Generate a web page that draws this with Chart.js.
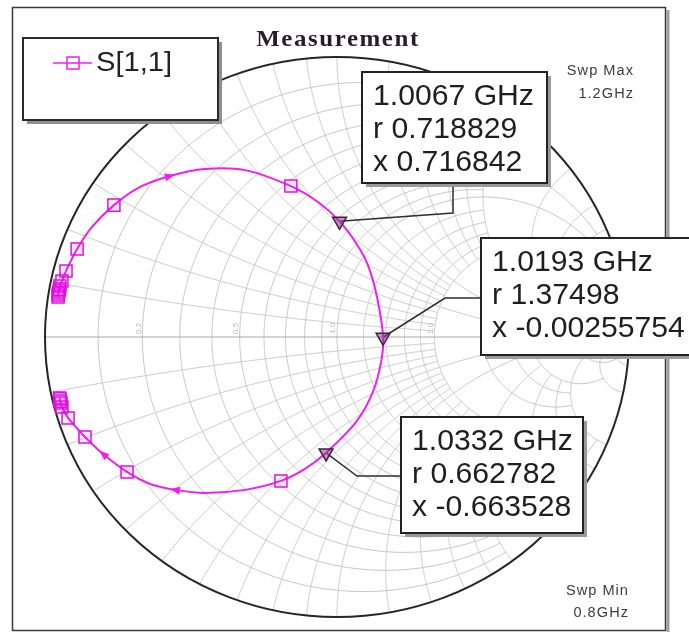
<!DOCTYPE html>
<html>
<head>
<meta charset="utf-8">
<script src="https://cdn.jsdelivr.net/npm/chart.js@4.4.1/dist/chart.umd.min.js"></script>
<style>
  html, body { margin: 0; padding: 0; background: #fff; overflow: hidden; }
  canvas { display: block; }
</style>
</head>
<body>
<canvas id="smith" width="689" height="632" style="width:689px;height:632px"></canvas>
<script>
// S[1,1] sweep: frequency (GHz) and reflection coefficient (real / imaginary)
const freqGHz = [0.80, 0.82, 0.84, 0.86, 0.88, 0.90, 0.92, 0.94, 0.96, 0.97, 0.98, 0.985, 0.99, 0.994, 0.997,
                 1.00, 1.0035, 1.0067, 1.010, 1.013, 1.016, 1.0193, 1.023, 1.026, 1.029, 1.0332, 1.036,
                 1.04, 1.044, 1.048, 1.052, 1.056, 1.06, 1.07, 1.08, 1.09, 1.10, 1.12, 1.14, 1.16, 1.18, 1.20];
const s11Re = [-0.955, -0.955, -0.954, -0.952, -0.950, -0.949, -0.942, -0.928, -0.890, -0.839, -0.764, -0.682, -0.572, -0.452, -0.315,
               -0.158, -0.065, 0.009, 0.065, 0.106, 0.137, 0.158, 0.151, 0.123, 0.065, -0.038, -0.110,
               -0.192, -0.315, -0.452, -0.555, -0.640, -0.719, -0.801, -0.863, -0.897, -0.921, -0.942, -0.945, -0.949, -0.949, -0.950];
const s11Im = [0.143, 0.150, 0.157, 0.164, 0.171, 0.182, 0.200, 0.236, 0.314, 0.393, 0.471, 0.532, 0.575, 0.600, 0.596,
               0.539, 0.482, 0.413, 0.336, 0.257, 0.143, -0.001, -0.089, -0.196, -0.304, -0.414, -0.471,
               -0.514, -0.546, -0.557, -0.546, -0.525, -0.482, -0.418, -0.357, -0.318, -0.289, -0.250, -0.236, -0.229, -0.221, -0.218];

// markers: frequency and normalized impedance r + jx
const markerFreqGHz = [1.0067, 1.0193, 1.0332];
const markerR = [0.718829, 1.37498, 0.662782];
const markerX = [0.716842, -0.00255754, -0.663528];

// sweep direction arrows placed at these frequencies
const arrowFreqGHz = [0.99, 1.052, 1.07];

// Smith grid: circle / arc values and how far each one is drawn
const gridValues = [0.1, 0.2, 0.3, 0.4, 0.5, 0.6, 0.7, 0.8, 0.9, 1.0, 1.2, 1.4, 1.6, 1.8, 2.0, 3, 4, 5, 10, 20];
const gridLimits = [2, 2, 2, 2, 5, 2, 2, 2, 2, 5, 2, 2, 2, 2, 5, 5, 5, 10, 20, Infinity];
const axisLabelValues = [0.2, 0.5, 1.0, 2.0, 5.0];

const chartTitle = 'Measurement';
const seriesName = 'S[1,1]';
const sweepMaxText = ['Swp Max', '1.2GHz'];
const sweepMinText = ['Swp Min', '0.8GHz'];

const TRACE = '#f01ef0';
const SANS = '"Liberation Sans", Arial, sans-serif';

function zToGamma(r, x) {
  const d = (r + 1) * (r + 1) + x * x;
  return [(r * r + x * x - 1) / d, (2 * x) / d];
}
function isSquarePoint(f) {
  return Math.abs(f * 50 - Math.round(f * 50)) < 1e-6;
}

// marker label boxes and their leader-line bends
const markerBoxes = [
  { x: 362, y: 72,  w: 185, h: 111, bends: [[453, 213], [453, 183]] },
  { x: 481, y: 238, w: 240, h: 117, bends: [[445, 298], [481, 298]] },
  { x: 401, y: 417, w: 182, h: 116, bends: [[357, 476], [401, 476]] }
];

function stretchedText(ctx, text, x, y, font, color, align, spacing) {
  ctx.save();
  ctx.font = font;
  ctx.fillStyle = color;
  ctx.textAlign = align || 'left';
  ctx.textBaseline = 'alphabetic';
  if (spacing) ctx.letterSpacing = spacing + 'px';
  ctx.translate(x, y);
  ctx.scale(1.04, 1);
  ctx.fillText(text, 0, 0);
  ctx.restore();
}

const smithPlugin = {
  id: 'smithPlugin',
  beforeDraw(chart) {
    const ctx = chart.ctx;
    ctx.save();
    ctx.fillStyle = '#fff';
    ctx.fillRect(0, 0, chart.width, chart.height);
    // outer frame with a soft right-hand shadow
    ctx.strokeStyle = '#a0a0a0';
    ctx.lineWidth = 3;
    ctx.beginPath(); ctx.moveTo(668, 10); ctx.lineTo(668, 632); ctx.stroke();
    ctx.strokeStyle = '#3a3a3a';
    ctx.lineWidth = 1.5;
    ctx.strokeRect(12.5, 7.5, 653, 623);
    ctx.restore();
  },
  beforeDatasetsDraw(chart) {
    const ctx = chart.ctx;
    const sx = chart.scales.x, sy = chart.scales.y;
    const P = g => [sx.getPixelForValue(g[0]), sy.getPixelForValue(g[1])];
    ctx.save();
    ctx.strokeStyle = '#c6c6c6';
    ctx.lineWidth = 1;
    const N = 500;
    gridValues.forEach((v, i) => {
      const a = Math.atan(gridLimits[i]);
      // resistance circle r = v
      ctx.beginPath();
      for (let k = 0; k <= N; k++) {
        const phi = -a + 2 * a * k / N;
        const p = P(zToGamma(v, Math.tan(phi)));
        k ? ctx.lineTo(p[0], p[1]) : ctx.moveTo(p[0], p[1]);
      }
      ctx.stroke();
      // reactance arcs x = +v and x = -v
      [1, -1].forEach(sgn => {
        ctx.beginPath();
        for (let k = 0; k <= N; k++) {
          const psi = a * k / N;
          const p = P(zToGamma(Math.tan(psi), sgn * v));
          k ? ctx.lineTo(p[0], p[1]) : ctx.moveTo(p[0], p[1]);
        }
        ctx.stroke();
      });
    });
    // real axis
    ctx.strokeStyle = '#a8a8a8';
    const l = P([-1, 0]), rgt = P([1, 0]);
    ctx.beginPath(); ctx.moveTo(l[0], l[1]); ctx.lineTo(rgt[0], rgt[1]); ctx.stroke();

    // small resistance labels along the axis
    ctx.fillStyle = '#b8b8b8';
    ctx.font = '8px ' + SANS;
    ctx.textAlign = 'left';
    ctx.textBaseline = 'middle';
    axisLabelValues.forEach(v => {
      const p = P(zToGamma(v, 0));
      ctx.save();
      ctx.translate(p[0] - 4, p[1] - 3);
      ctx.rotate(-Math.PI / 2);
      ctx.fillText(v.toFixed(1), 0, 0);
      ctx.restore();
    });

    // outer |Γ| = 1 boundary
    const c = P([0, 0]);
    const rx = sx.getPixelForValue(1) - c[0];
    const ry = c[1] - sy.getPixelForValue(1);
    ctx.strokeStyle = '#262626';
    ctx.lineWidth = 2;
    ctx.beginPath();
    ctx.ellipse(c[0], c[1], rx, ry, 0, 0, Math.PI * 2);
    ctx.stroke();

    // leader lines from markers to their boxes
    ctx.strokeStyle = '#2e2e2e';
    ctx.lineWidth = 1.5;
    markerR.forEach((r, i) => {
      const p = P(zToGamma(r, markerX[i]));
      ctx.beginPath();
      ctx.moveTo(p[0], p[1]);
      markerBoxes[i].bends.forEach(b => ctx.lineTo(b[0], b[1]));
      ctx.stroke();
    });
    ctx.restore();
  },
  afterDatasetsDraw(chart) {
    const ctx = chart.ctx;
    const sx = chart.scales.x, sy = chart.scales.y;
    ctx.save();
    // direction arrows on the trace
    ctx.fillStyle = TRACE;
    arrowFreqGHz.forEach(f => {
      const i = freqGHz.indexOf(f);
      if (i < 1) return;
      const x0 = sx.getPixelForValue(s11Re[i - 1]), y0 = sy.getPixelForValue(s11Im[i - 1]);
      const x1 = sx.getPixelForValue(s11Re[i + 1]), y1 = sy.getPixelForValue(s11Im[i + 1]);
      const px = sx.getPixelForValue(s11Re[i]), py = sy.getPixelForValue(s11Im[i]);
      const ang = Math.atan2(y1 - y0, x1 - x0);
      ctx.save();
      ctx.translate(px, py);
      ctx.rotate(ang);
      ctx.beginPath();
      ctx.moveTo(5, 0);
      ctx.lineTo(-5, -4);
      ctx.lineTo(-5, 4);
      ctx.closePath();
      ctx.fill();
      ctx.restore();
    });

    // marker label boxes
    markerBoxes.forEach((b, i) => {
      ctx.fillStyle = '#9a9a9a';
      ctx.fillRect(b.x + 4, b.y + 4, b.w, b.h);
      ctx.fillStyle = '#fff';
      ctx.fillRect(b.x, b.y, b.w, b.h);
      ctx.strokeStyle = '#222';
      ctx.lineWidth = 2;
      ctx.strokeRect(b.x, b.y, b.w, b.h);
      const font = '29px ' + SANS;
      const tx = b.x + 11;
      stretchedText(ctx, markerFreqGHz[i] + ' GHz', tx, b.y + 33, font, '#1e1e1e');
      stretchedText(ctx, 'r ' + markerR[i], tx, b.y + 66, font, '#1e1e1e');
      stretchedText(ctx, 'x ' + markerX[i], tx, b.y + 99, font, '#1e1e1e');
    });

    // legend
    ctx.fillStyle = '#8f8f8f';
    ctx.fillRect(27, 42, 195, 82);
    ctx.fillStyle = '#fff';
    ctx.fillRect(23, 38, 195, 82);
    ctx.strokeStyle = '#2a2a2a';
    ctx.lineWidth = 2;
    ctx.strokeRect(23, 38, 195, 82);
    ctx.strokeStyle = TRACE;
    ctx.lineWidth = 1.5;
    ctx.beginPath(); ctx.moveTo(53, 63); ctx.lineTo(92, 63); ctx.stroke();
    ctx.strokeRect(67, 57, 12, 12);
    stretchedText(ctx, seriesName, 96, 71, '28px ' + SANS, '#222');

    // title and sweep limits
    stretchedText(ctx, chartTitle, 338, 46, 'bold 24px "Liberation Serif", "Times New Roman", serif', '#2b1b2e', 'center', 1.5);
    const small = '14px ' + SANS;
    stretchedText(ctx, sweepMaxText[0], 634, 75, small, '#3c3c3c', 'right', 1);
    stretchedText(ctx, sweepMaxText[1], 634, 98, small, '#3c3c3c', 'right', 1);
    stretchedText(ctx, sweepMinText[0], 629, 595, small, '#3c3c3c', 'right', 1);
    stretchedText(ctx, sweepMinText[1], 629, 617, small, '#3c3c3c', 'right', 1);
    ctx.restore();
  }
};

const traceData = freqGHz.map((f, i) => ({ x: s11Re[i], y: s11Im[i] }));
const markerData = markerR.map((r, i) => {
  const g = zToGamma(r, markerX[i]);
  return { x: g[0], y: g[1] };
});

new Chart(document.getElementById('smith'), {
  type: 'scatter',
  data: {
    datasets: [
      {
        label: seriesName,
        data: traceData,
        showLine: true,
        tension: 0.3,
        borderColor: TRACE,
        borderWidth: 2,
        pointStyle: 'rect',
        pointRadius: c => isSquarePoint(freqGHz[c.dataIndex]) ? 8.5 : 0,
        pointBorderColor: '#e010e0',
        pointBackgroundColor: 'rgba(255,0,255,0.06)',
        pointBorderWidth: 1.5,
        clip: false,
        order: 2
      },
      {
        label: 'markers',
        data: markerData,
        showLine: false,
        pointStyle: 'triangle',
        rotation: 180,
        pointRadius: 8,
        pointBackgroundColor: 'rgba(150,60,150,0.55)',
        pointBorderColor: '#3a243c',
        pointBorderWidth: 1.5,
        clip: false,
        order: 1
      }
    ]
  },
  options: {
    responsive: false,
    animation: false,
    events: [],
    layout: { padding: { left: 45, right: 60, top: 57, bottom: 15 } },
    scales: {
      x: { type: 'linear', min: -1, max: 1, display: false },
      y: { type: 'linear', min: -1, max: 1, display: false }
    },
    plugins: {
      legend: { display: false },
      tooltip: { enabled: false },
      title: { display: false }
    }
  },
  plugins: [smithPlugin]
});
</script>
</body>
</html>
